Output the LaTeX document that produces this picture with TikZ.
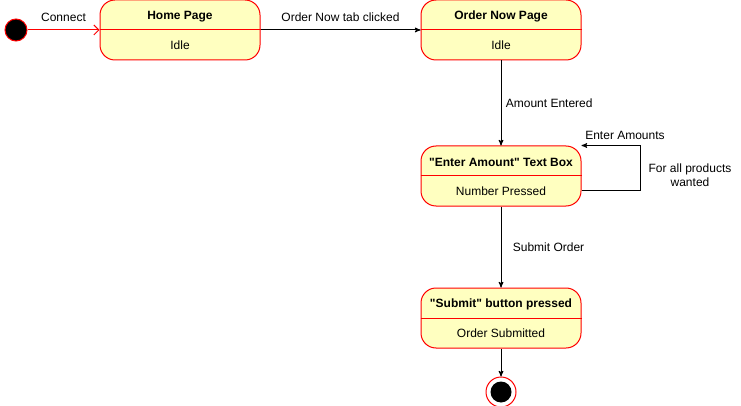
\documentclass[tikz,border=0pt]{standalone}
\usepackage{fontspec}
\setmainfont{Liberation Sans}[Ligatures=TeXOff]
\usetikzlibrary{arrows, arrows.meta, positioning}
\definecolor{statefill}{HTML}{FFFFC0}

\begin{document}
\begin{tikzpicture}[x=1pt, y=-1pt, >=stealth', line width=1pt,
  font=\fontsize{12}{13.5}\selectfont,
  state/.style={draw=red, fill=statefill, rounded corners=15pt, minimum width=160pt, minimum height=60pt, inner sep=0pt},
  stitle/.style={font=\fontsize{12}{13.5}\selectfont\bfseries},
  initst/.style={circle, draw=red, fill=black, minimum size=22pt, inner sep=0pt},
  finalst/.style={circle, draw=red, fill=white, minimum size=30pt, inner sep=0pt,
    path picture={\fill[black] (path picture bounding box.center) circle (10.5pt);}}]

  \useasboundingbox (0,0) rectangle (741,406);

  \node[initst] (init) at (16,30) {};
  \node[state] (home) at (180,30) {};
  \node[state, right=160pt of home] (order) {};
  \node[state, below=85pt of order] (enter) {};
  \node[state, below=81pt of enter] (submit) {};
  \node[finalst, below=28pt of submit] (final) {};

  \foreach \n/\t/\s in {home/Home Page/Idle, order/Order Now Page/Idle,
      enter/"Enter Amount" Text Box/Number Pressed,
      submit/"Submit" button pressed/Order Submitted}{
    \draw[red] (\n.west) -- (\n.east);
    \node[stitle] (\n-t) at ([yshift=13.5pt]\n.center) {\t};
    \node (\n-s) at ([yshift=-15.5pt]\n.center) {\s};
  }

  \draw[red, -{Straight Barb[length=5pt, width=10pt]}] (init) -- node[above=5pt, text=black] (connect) {Connect} (home);
  \draw[->] (home) -- node[above=5pt] (clicked) {Order Now tab clicked} (order);
  \draw[->] (order) -- node[right=1pt] (entered) {Amount Entered} (enter);
  \draw[->] (enter) -- node[right=8pt] (submitted) {Submit Order} (submit);
  \draw[->] (submit) -- (final);

  % self loop on the text box
  \draw[->] ([yshift=-15pt]enter.east) -- ++(59,0) coordinate (loopc) |- (enter.north east);
  \node (amounts) at (625,135) {Enter Amounts};
  \node[align=center] (wanted) at (690,175) {For all products\\wanted};

\end{tikzpicture}
\end{document}
